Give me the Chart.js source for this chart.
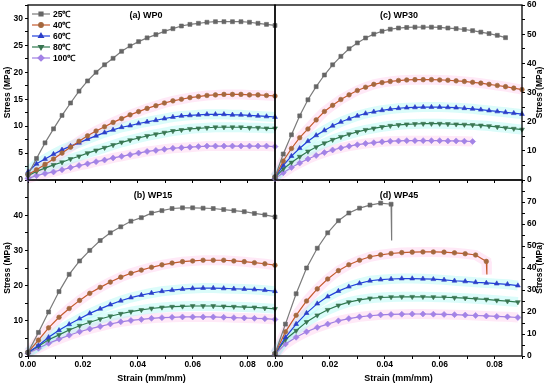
<!DOCTYPE html>
<html>
<head>
<meta charset="utf-8">
<script src="https://cdn.jsdelivr.net/npm/chart.js@4"></script>
<style>
  html, body { margin: 0; padding: 0; background: #fff; }
  #wrap { position: relative; width: 550px; height: 387px; }
  #wrap canvas { position: absolute; left: 0; top: 0; }
</style>
</head>
<body>
<div id="wrap">
  <canvas id="cB" width="550" height="387"></canvas>
  <canvas id="cD" width="550" height="387"></canvas>
  <canvas id="cA" width="550" height="387"></canvas>
  <canvas id="cC" width="550" height="387"></canvas>
</div>
<script>
// series names and tick labels
var tempLabels = ['25℃', '40℃', '60℃', '80℃', '100℃'];
var xTickLabels = ['0.00', '0.02', '0.04', '0.06', '0.08'];
var yTicksA = [0, 5, 10, 15, 20, 25, 30];
var yTicksB = [0, 10, 20, 30, 40];
var yTicksC = [0, 10, 20, 30, 40, 50, 60];
var yTicksD = [0, 10, 20, 30, 40, 50, 60, 70];

// (a) WP0
var strainA = [0, 0.0031, 0.0062, 0.0093, 0.0124, 0.0155, 0.0186, 0.0217, 0.0248, 0.0279,
  0.0310, 0.0341, 0.0372, 0.0403, 0.0434, 0.0466, 0.0497, 0.0528, 0.0559, 0.0590,
  0.0621, 0.0652, 0.0683, 0.0714, 0.0745, 0.0776, 0.0807, 0.0838, 0.0869, 0.0900];
var wp0_25  = [1.0, 4.0, 6.9, 9.5, 12.0, 14.3, 16.5, 18.4, 20.0, 21.4, 22.6, 23.9, 24.9, 25.7, 26.4,
  27.0, 27.6, 28.1, 28.6, 28.9, 29.1, 29.3, 29.4, 29.4, 29.4, 29.4, 29.3, 29.1, 28.9, 28.7];
var wp0_40  = [1.0, 1.9, 2.9, 3.9, 5.0, 6.1, 7.2, 8.2, 9.1, 9.9, 10.7, 11.4, 12.1, 12.7, 13.3,
  13.8, 14.3, 14.7, 15.0, 15.3, 15.5, 15.7, 15.8, 15.9, 15.9, 15.9, 15.8, 15.8, 15.7, 15.6];
var wp0_60  = [1.5, 3.0, 3.9, 4.8, 5.6, 6.3, 6.9, 7.6, 8.2, 8.8, 9.3, 9.8, 10.1, 10.5, 10.8,
  11.1, 11.4, 11.7, 11.9, 12.0, 12.1, 12.2, 12.2, 12.2, 12.1, 12.1, 12.0, 11.9, 11.8, 11.7];
var wp0_80  = [0.8, 1.6, 2.2, 2.8, 3.3, 3.9, 4.4, 5.0, 5.5, 6.0, 6.5, 7.0, 7.4, 7.8, 8.2,
  8.5, 8.8, 9.1, 9.3, 9.5, 9.6, 9.7, 9.8, 9.8, 9.8, 9.8, 9.7, 9.7, 9.6, 9.6];
var wp0_100 = [0.3, 0.8, 1.2, 1.5, 1.9, 2.3, 2.7, 3.0, 3.4, 3.7, 4.1, 4.4, 4.7, 5.0, 5.3,
  5.5, 5.7, 5.9, 6.0, 6.1, 6.2, 6.3, 6.3, 6.3, 6.3, 6.3, 6.3, 6.3, 6.3, 6.2];

// (b) WP15
var strainB = [0, 0.0038, 0.0075, 0.0113, 0.0150, 0.0188, 0.0225, 0.0263, 0.0300, 0.0338,
  0.0375, 0.0413, 0.0450, 0.0488, 0.0525, 0.0563, 0.0600, 0.0638, 0.0675, 0.0713,
  0.0750, 0.0788, 0.0825, 0.0863, 0.0900];
var wp15_25  = [1.0, 6.7, 12.5, 18.3, 23.2, 27.0, 30.0, 32.8, 35.0, 36.7, 38.3, 39.3, 40.6,
  41.3, 41.9, 42.1, 42.1, 42.0, 41.9, 41.6, 41.3, 41.0, 40.5, 40.1, 39.5];
var wp15_40  = [1.0, 4.5, 8.0, 11.0, 13.5, 15.8, 17.8, 19.5, 21.0, 22.4, 23.5, 24.4, 25.2,
  25.9, 26.4, 26.8, 27.0, 27.2, 27.2, 27.2, 27.0, 26.8, 26.5, 26.2, 25.8];
var wp15_60  = [1.0, 3.0, 5.3, 7.3, 9.0, 10.6, 12.1, 13.4, 14.6, 15.7, 16.6, 17.3, 17.9,
  18.4, 18.7, 19.0, 19.2, 19.3, 19.3, 19.2, 19.1, 19.0, 18.9, 18.7, 18.4];
var wp15_80  = [1.0, 2.8, 4.6, 6.0, 7.4, 8.6, 9.6, 10.5, 11.3, 12.0, 12.6, 13.1, 13.5,
  13.8, 14.0, 14.1, 14.2, 14.2, 14.2, 14.1, 14.0, 13.9, 13.8, 13.6, 13.4];
var wp15_100 = [0.8, 2.2, 3.6, 4.8, 5.9, 6.9, 7.7, 8.4, 9.1, 9.7, 10.1, 10.4, 10.7,
  10.9, 11.0, 11.1, 11.1, 11.1, 11.1, 11.0, 10.9, 10.8, 10.7, 10.6, 10.4];

// (c) WP30
var strainC = [0, 0.003, 0.006, 0.009, 0.012, 0.015, 0.018, 0.021, 0.024, 0.027, 0.030,
  0.033, 0.036, 0.039, 0.042, 0.045, 0.048, 0.051, 0.054, 0.057, 0.060,
  0.063, 0.066, 0.069, 0.072, 0.075, 0.078, 0.081, 0.084, 0.087, 0.090];
var wp30_25  = [1.0, 8.9, 15.5, 22.0, 27.5, 32.0, 36.0, 39.5, 42.4, 45.0, 47.0, 48.7, 50.0, 51.0,
  51.7, 52.1, 52.3, 52.4, 52.4, 52.4, 52.3, 52.1, 51.9, 51.6, 51.2, 50.7, 50.2, 49.6, 48.8];
var wp30_40  = [1.0, 6.5, 10.8, 14.5, 17.5, 20.6, 23.5, 25.6, 27.6, 29.2, 30.7, 31.8, 32.8, 33.4,
  33.8, 34.1, 34.3, 34.4, 34.4, 34.4, 34.3, 34.2, 34.0, 33.8, 33.5, 33.2, 32.8, 32.4, 32.0, 31.5, 31.0];
var wp30_60  = [1.0, 5.0, 8.2, 10.9, 13.3, 15.3, 17.0, 18.6, 19.9, 21.0, 22.0, 22.8, 23.4, 23.9,
  24.3, 24.6, 24.8, 24.9, 25.0, 25.0, 25.0, 24.9, 24.8, 24.6, 24.4, 24.1, 23.8, 23.5, 23.2, 22.9, 22.6];
var wp30_80  = [0.8, 3.8, 6.0, 8.0, 9.8, 11.3, 12.6, 13.8, 14.8, 15.7, 16.5, 17.2, 17.7, 18.2,
  18.6, 18.9, 19.1, 19.2, 19.3, 19.3, 19.3, 19.2, 19.1, 19.0, 18.9, 18.7, 18.5, 18.2, 17.9, 17.6, 17.3];
var wp30_100 = [0.5, 2.5, 4.3, 5.8, 7.2, 8.4, 9.4, 10.3, 11.0, 11.6, 12.1, 12.5, 12.8, 13.1,
  13.3, 13.4, 13.5, 13.5, 13.5, 13.5, 13.5, 13.4, 13.4, 13.3, 13.2];

// (d) WP45
var strainD = [0, 0.0038, 0.0077, 0.0115, 0.0154, 0.0192, 0.0231, 0.0269, 0.0308, 0.0346,
  0.0385, 0.0423, 0.0462, 0.0500, 0.0539, 0.0577, 0.0616, 0.0654, 0.0693, 0.0731,
  0.0770, 0.0808, 0.0847, 0.0885];
var wp45_25  = [1.0, 14.5, 28.3, 40.0, 49.0, 56.0, 61.5, 65.0, 67.2, 68.6, 69.5, 69.0];
var wp45_40  = [1.0, 11.0, 18.5, 25.0, 30.5, 35.0, 38.8, 41.5, 43.5, 45.1, 46.0, 46.6, 47.0,
  47.2, 47.3, 47.3, 47.2, 46.9, 46.5, 45.9, 43.0];
var wp45_60  = [1.0, 8.5, 14.5, 19.5, 23.8, 27.0, 29.5, 31.5, 33.0, 34.2, 34.7, 35.0, 35.2,
  35.2, 35.1, 34.9, 34.6, 34.2, 33.9, 33.5, 33.2, 32.9, 32.6, 32.0];
var wp45_80  = [1.0, 7.5, 11.5, 15.5, 18.5, 21.0, 23.0, 24.5, 25.5, 26.2, 26.6, 26.8, 26.9,
  26.9, 26.9, 26.8, 26.7, 26.5, 26.3, 26.0, 25.7, 25.3, 24.9, 24.5];
var wp45_100 = [0.8, 5.5, 8.5, 11.0, 13.0, 14.5, 16.0, 17.0, 17.8, 18.3, 18.7, 18.9, 19.0,
  19.1, 19.1, 19.0, 18.9, 18.8, 18.6, 18.4, 18.2, 18.0, 17.8, 17.5];
// end points of the sudden failure drops in (d): [strain, stress]
var wp45_25Drop = [0.0425, 52.5];
var wp45_40Drop = [0.0772, 37.0];

// styles
var FONT = 'Arial, "Liberation Sans", sans-serif';
var lineColors   = ['#7b7b7b', '#c55a2d', '#2140dd', '#2f7a50', '#a07fe2'];
var markerColors = ['#666666', '#a4683e', '#2d3fc8', '#3a7552', '#a383e6'];
var bandColors   = [null, 'rgba(255,175,228,0.28)', 'rgba(150,245,240,0.34)',
                    'rgba(150,245,240,0.34)', 'rgba(255,175,228,0.28)'];
var markerStyles = ['rect', 'circle', 'triangle', 'triangle', 'rectRot'];
var markerRot    = [0, 0, 0, 180, 0];
var markerSize   = [2.8, 2.3, 2.8, 2.8, 3.0];

function drawMarker(ctx, i, x, y) {
  ctx.fillStyle = markerColors[i];
  ctx.strokeStyle = markerColors[i];
  Chart.helpers.drawPoint(ctx, {
    pointStyle: markerStyles[i], rotation: markerRot[i],
    radius: markerSize[i], borderWidth: 0.6
  }, x, y);
}

function panel(id, cfg) {
  var datasets = [];
  cfg.series.forEach(function(vals, i) {
    var pts = vals.map(function(v, j) { return { x: cfg.strain[j], y: v }; });
    var radius = vals.map(function() { return markerSize[i]; });
    if (cfg.drops && cfg.drops[i]) {
      pts.push({ x: cfg.drops[i][0], y: cfg.drops[i][1] });
      radius.push(0);
    }
    datasets.push({
      label: tempLabels[i], data: pts, order: 1, clip: 6,
      borderColor: lineColors[i], borderWidth: 1.2, tension: 0,
      pointStyle: markerStyles[i], pointRotation: markerRot[i], pointRadius: radius,
      pointBackgroundColor: markerColors[i], pointBorderColor: markerColors[i],
      pointBorderWidth: 0.6
    });
    if (bandColors[i]) {
      datasets.push({
        label: tempLabels[i] + ' band', data: pts, order: 10, clip: 6,
        borderColor: bandColors[i], borderWidth: 10, pointRadius: 0, tension: 0
      });
    }
  });

  var left = cfg.side === 'left';
  var framePlugin = {
    id: 'frame',
    afterDraw: function(chart) {
      var a = chart.chartArea, ctx = chart.ctx;
      ctx.save();
      ctx.strokeStyle = '#000';
      ctx.lineWidth = 1.3;
      ctx.strokeRect(a.left, a.top, a.right - a.left, a.bottom - a.top);
      ctx.fillStyle = '#000';
      ctx.textAlign = 'center';
      ctx.textBaseline = 'middle';
      ctx.font = 'bold 9px ' + FONT;
      ctx.fillText(cfg.label, cfg.labelX, cfg.labelY);
      if (!left) {
        ctx.save();
        ctx.translate(540, (a.top + a.bottom) / 2);
        ctx.rotate(-Math.PI / 2);
        ctx.font = 'bold 8.5px ' + FONT;
        ctx.fillText('Stress (MPa)', 0, 0);
        ctx.restore();
      }
      if (cfg.legend) {
        ctx.font = 'bold 8.5px ' + FONT;
        ctx.textAlign = 'left';
        tempLabels.forEach(function(t, i) {
          var y = 14 + i * 11;
          ctx.strokeStyle = lineColors[i];
          ctx.lineWidth = 1.2;
          ctx.beginPath(); ctx.moveTo(32, y); ctx.lineTo(50, y); ctx.stroke();
          drawMarker(ctx, i, 41, y);
          ctx.fillStyle = '#000';
          ctx.fillText(t, 53, y + 0.5);
        });
      }
      ctx.restore();
    }
  };

  var tickFont = { family: FONT, size: 8.5, weight: 'bold' };
  var gridOpts = { display: true, drawOnChartArea: false, drawTicks: true, tickLength: 3,
                   tickColor: '#000', tickWidth: 1 };

  new Chart(document.getElementById(id), {
    type: 'line',
    data: { datasets: datasets },
    options: {
      responsive: false, animation: false, events: [],
      layout: {
        autoPadding: false,
        padding: {
          left: left ? 0 : 275, right: left ? 275 : 0,
          top: cfg.top, bottom: cfg.showX ? 0 : 387 - cfg.bottom
        }
      },
      plugins: { legend: { display: false }, tooltip: { enabled: false } },
      scales: {
        x: {
          type: 'linear', min: 0, max: 0.09,
          grid: gridOpts, border: { display: false },
          ticks: {
            display: cfg.showX, stepSize: 0.01, autoSkip: false, maxRotation: 0,
            padding: 1, color: '#000', font: tickFont,
            callback: function(v) {
              var s = v.toFixed(2);
              return xTickLabels.indexOf(s) >= 0 ? s : '';
            }
          },
          title: {
            display: cfg.showX, text: 'Strain (mm/mm)', color: '#000',
            font: { family: FONT, size: 9, weight: 'bold' }, padding: { top: 0, bottom: 3 }
          },
          afterFit: function(s) {
            s.height = cfg.showX ? 387 - cfg.bottom : 0;
            s.paddingLeft = 0; s.paddingRight = 0;
          }
        },
        y: {
          type: 'linear', position: cfg.side, min: 0, max: cfg.yMax,
          grid: gridOpts, border: { display: false },
          ticks: {
            stepSize: cfg.yStep, autoSkip: false, padding: 2, color: '#000', font: tickFont,
            callback: function(v) { return cfg.yTicks.indexOf(v) >= 0 ? String(v) : ''; }
          },
          title: {
            display: left, text: 'Stress (MPa)', color: '#000',
            font: { family: FONT, size: 8.5, weight: 'bold' }, padding: { top: 3, bottom: 0 }
          },
          afterFit: function(s) {
            s.width = 28;
            s.paddingTop = 0; s.paddingBottom = 0;
          }
        }
      }
    },
    plugins: [framePlugin]
  });
}

panel('cA', {
  strain: strainA, series: [wp0_25, wp0_40, wp0_60, wp0_80, wp0_100],
  side: 'left', top: 5, bottom: 180, showX: false,
  yMax: 32.5, yStep: 2.5, yTicks: yTicksA,
  label: '(a) WP0', labelX: 146, labelY: 16, legend: true
});
panel('cC', {
  strain: strainC, series: [wp30_25, wp30_40, wp30_60, wp30_80, wp30_100],
  side: 'right', top: 5, bottom: 180, showX: false,
  yMax: 60, yStep: 5, yTicks: yTicksC,
  label: '(c) WP30', labelX: 399, labelY: 16
});
panel('cB', {
  strain: strainB, series: [wp15_25, wp15_40, wp15_60, wp15_80, wp15_100],
  side: 'left', top: 180, bottom: 356, showX: true,
  yMax: 50, yStep: 5, yTicks: yTicksB,
  label: '(b) WP15', labelX: 153, labelY: 196
});
panel('cD', {
  strain: strainD, series: [wp45_25, wp45_40, wp45_60, wp45_80, wp45_100],
  drops: [wp45_25Drop, wp45_40Drop, null, null, null],
  side: 'right', top: 180, bottom: 356, showX: true,
  yMax: 80, yStep: 5, yTicks: yTicksD,
  label: '(d) WP45', labelX: 399, labelY: 196
});
</script>
</body>
</html>
